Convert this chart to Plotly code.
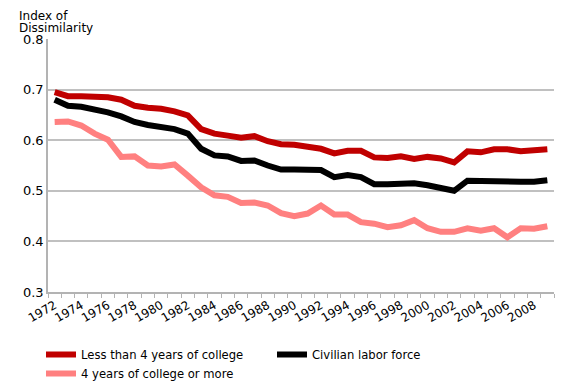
import plotly.graph_objects as go

years = list(range(1972, 2010))

less_than_4yrs = [0.695, 0.687, 0.687, 0.687, 0.685, 0.680, 0.668, 0.664, 0.662, 0.657,
                  0.649, 0.622, 0.613, 0.609, 0.605, 0.608, 0.598, 0.592, 0.591, 0.587,
                  0.583, 0.574, 0.579, 0.579, 0.566, 0.565, 0.568, 0.563, 0.567, 0.564,
                  0.556, 0.578, 0.576, 0.582, 0.582, 0.578, 0.579, 0.582]

civilian = [0.680, 0.668, 0.666, 0.661, 0.655, 0.647, 0.636, 0.630, 0.627, 0.622,
            0.613, 0.583, 0.570, 0.568, 0.559, 0.560, 0.550, 0.542, 0.542, 0.542,
            0.541, 0.527, 0.531, 0.527, 0.513, 0.513, 0.515, 0.515, 0.511, 0.505,
            0.500, 0.520, 0.519, 0.520, 0.518, 0.518, 0.518, 0.521]

four_yrs_plus = [0.636, 0.637, 0.629, 0.613, 0.601, 0.567, 0.568, 0.550, 0.548, 0.552,
                 0.530, 0.507, 0.491, 0.488, 0.476, 0.477, 0.471, 0.456, 0.450, 0.455,
                 0.471, 0.453, 0.453, 0.438, 0.435, 0.428, 0.432, 0.442, 0.426, 0.419,
                 0.419, 0.426, 0.421, 0.426, 0.408, 0.426, 0.425, 0.430]

tick_years = list(range(1972, 2009, 2))
tick_labels = [str(y) for y in tick_years]

FONT = "DejaVu Sans"

fig = go.Figure()
fig.add_trace(go.Scatter(x=years, y=less_than_4yrs, mode="lines",
                         name="Less than 4 years of college",
                         line=dict(color="#c00000", width=6)))
fig.add_trace(go.Scatter(x=years, y=civilian, mode="lines",
                         name="Civilian labor force",
                         line=dict(color="#000000", width=6)))
fig.add_trace(go.Scatter(x=years, y=four_yrs_plus, mode="lines",
                         name="4 years of college or more",
                         line=dict(color="#ff8080", width=6)))

PLOT_H = 253
title_font = dict(family=FONT, size=12, color="black")

# page body has an 8px margin, so figure is 562x373 placed at (8, 8)
fig.update_layout(
    width=562, height=373,
    margin=dict(l=40, r=16, t=31, b=89, autoexpand=False),
    paper_bgcolor="white", plot_bgcolor="white",
    font=dict(family=FONT, size=12, color="black"),
    showlegend=True,
    legend=dict(orientation="h", x=-7/506, y=-48/PLOT_H, xanchor="left", yanchor="top",
                entrywidth=186, entrywidthmode="pixels", itemwidth=30,
                font=dict(family=FONT, size=11.6, color="black"),
                tracegroupgap=0, traceorder="normal", bgcolor="rgba(0,0,0,0)"),
    xaxis=dict(range=[1971.5, 2009.5], tickmode="array", tickvals=tick_years,
               ticktext=tick_labels, tickangle=-30, ticks="", showgrid=False,
               showline=True, linecolor="#b3b3b3", linewidth=1.5,
               tickfont=dict(family=FONT, size=12, color="black"),
               minor=dict(ticks="outside", tick0=1971.5, dtick=1, ticklen=4,
                          tickcolor="#b3b3b3", showgrid=False),
               zeroline=False, fixedrange=True, automargin=False),
    yaxis=dict(range=[0.3, 0.8], dtick=0.1, tick0=0.3, tickformat=".1f",
               showgrid=True, gridcolor="#c0c0c0", gridwidth=1.5,
               showline=True, linecolor="#b3b3b3", linewidth=1.5,
               ticks="", ticklen=0,
               tickfont=dict(family=FONT, size=13, color="black"),
               zeroline=False, fixedrange=True, automargin=False),
    annotations=[
        dict(text="Index of", xref="paper", yref="paper",
             x=-30/506, y=1.0 + 23.5/PLOT_H, xanchor="left", yanchor="middle",
             showarrow=False, font=title_font, borderpad=0),
        dict(text="Dissimilarity", xref="paper", yref="paper",
             x=-30/506, y=1.0 + 11.5/PLOT_H, xanchor="left", yanchor="middle",
             showarrow=False, font=title_font, borderpad=0),
    ],
)

fig.write_html("out.html")
